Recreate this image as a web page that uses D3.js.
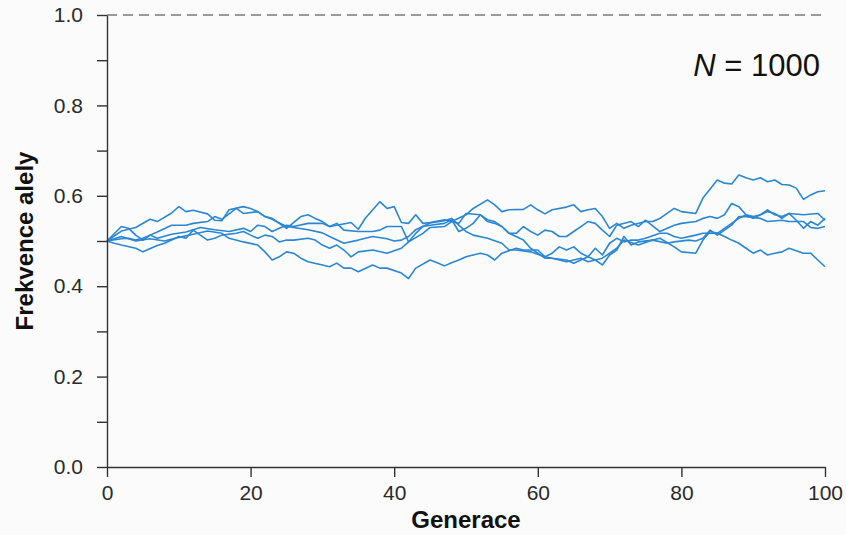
<!DOCTYPE html>
<html>
<head>
<meta charset="utf-8">
<script src="https://cdn.jsdelivr.net/npm/d3@7"></script>
<style>
  html, body { margin: 0; padding: 0; background: #fbfbfb; }
  svg { display: block; }
  text { font-family: "Liberation Sans", Arial, sans-serif; }
</style>
</head>
<body>
<svg id="chart" width="846" height="535"></svg>
<script>
// ---- data ----
const xTicks = [0, 20, 40, 60, 80, 100];
const yTicks = [0, 0.1, 0.2, 0.3, 0.4, 0.5, 0.6, 0.7, 0.8, 0.9, 1.0];
const yLabelTicks = [0, 0.2, 0.4, 0.6, 0.8, 1.0];
const xTitle = "Generace";
const yTitle = "Frekvence alely";
const annotation = "1000";

const s1Gen = [0,2,4,6,7,9,10,11,12,14,15,16,17,19,20,21,22,23,24,25,27,28,29,30,31,32,34,35,36,38,39,40,41,42,43,44,45,47,48,50,51,53,54,55,56,58,59,60,61,62,64,65,66,67,68,69,70,71,72,73,75,76,77,79,80,82,83,85,86,87,88,89,90,91,92,93,94,95,96,97,98,99,100];
const s1Val = [.500,.522,.530,.548,.543,.562,.576,.565,.568,.560,.546,.545,.569,.576,.572,.565,.554,.550,.539,.528,.554,.558,.550,.543,.532,.535,.541,.526,.551,.587,.572,.576,.541,.539,.558,.539,.541,.547,.543,.558,.572,.591,.580,.565,.569,.570,.580,.569,.560,.569,.575,.580,.565,.569,.572,.554,.528,.539,.528,.535,.543,.543,.550,.572,.565,.561,.595,.635,.628,.626,.646,.640,.635,.640,.631,.635,.625,.624,.617,.592,.602,.609,.611];

const s2Gen = [0,1,2,4,5,7,8,9,10,11,12,13,14,15,16,18,19,20,21,22,23,24,25,26,28,29,30,31,32,33,34,35,37,39,41,42,44,45,47,48,49,50,52,53,54,55,56,57,58,59,60,61,62,63,64,65,66,67,68,69,70,71,73,74,75,77,79,80,82,83,84,85,86,87,88,89,90,91,92,93,94,95,97,99,100];
const s2Val = [.500,.495,.491,.484,.476,.490,.495,.502,.510,.506,.524,.513,.502,.506,.513,.517,.521,.513,.506,.513,.510,.498,.502,.502,.506,.502,.491,.484,.491,.480,.465,.476,.480,.473,.484,.498,.517,.530,.532,.543,.539,.561,.558,.543,.539,.532,.517,.517,.532,.521,.513,.524,.521,.510,.510,.521,.532,.543,.539,.524,.510,.535,.543,.532,.546,.521,.535,.539,.543,.550,.554,.550,.558,.583,.576,.558,.554,.558,.565,.561,.550,.561,.558,.561,.546];

const s3Gen = [0,2,4,6,8,10,12,14,16,17,19,21,22,23,24,25,26,27,28,30,31,32,33,34,35,37,38,39,41,42,43,45,46,47,48,49,50,51,52,53,54,55,57,58,60,61,62,63,64,65,66,67,68,69,71,72,74,76,77,79,80,82,83,84,85,86,87,88,89,90,91,92,93,94,95,97,98,99,100];
const s3Val = [.500,.510,.500,.505,.500,.508,.515,.522,.517,.506,.498,.491,.476,.458,.465,.476,.473,.462,.454,.447,.443,.451,.440,.440,.432,.447,.440,.440,.429,.417,.440,.458,.452,.445,.452,.458,.465,.469,.473,.469,.458,.473,.484,.480,.480,.465,.473,.487,.480,.487,.473,.465,.458,.462,.484,.502,.491,.502,.506,.487,.476,.473,.502,.521,.517,.510,.502,.495,.484,.473,.480,.469,.473,.476,.484,.473,.473,.458,.443];

const s4Gen = [0,2,3,4,5,6,7,9,11,13,15,17,19,20,21,22,23,24,25,26,28,30,31,32,33,35,37,38,39,41,42,43,44,45,47,48,49,50,51,52,53,54,55,56,58,59,61,62,63,64,66,67,68,69,70,71,72,73,74,76,78,79,81,82,83,84,85,87,88,89,91,92,94,95,97,98,99,100];
const s4Val = [.500,.532,.528,.513,.502,.513,.506,.515,.520,.530,.525,.521,.528,.521,.535,.532,.521,.528,.535,.532,.539,.539,.532,.539,.524,.521,.521,.524,.532,.532,.498,.517,.532,.535,.539,.547,.521,.528,.539,.558,.547,.543,.532,.517,.502,.484,.462,.462,.458,.454,.462,.454,.458,.447,.469,.480,.510,.491,.498,.502,.495,.498,.502,.500,.506,.524,.513,.535,.554,.554,.550,.543,.546,.543,.543,.530,.528,.532];

const s5Gen = [0,2,3,4,5,6,7,9,11,12,14,15,16,18,19,21,22,23,24,25,26,28,30,31,33,35,37,39,40,41,42,43,45,47,48,49,50,51,53,55,56,57,59,61,62,64,65,66,67,68,69,70,71,72,73,74,75,77,78,79,80,82,83,85,86,88,89,90,91,92,93,94,95,96,97,98,99,100];
const s5Val = [.500,.505,.506,.502,.506,.513,.520,.535,.535,.539,.543,.554,.548,.572,.561,.565,.554,.548,.540,.532,.530,.525,.518,.510,.495,.502,.510,.505,.500,.502,.510,.525,.540,.545,.550,.535,.521,.513,.506,.495,.480,.480,.476,.465,.462,.458,.451,.458,.465,.484,.469,.495,.506,.498,.502,.502,.506,.517,.517,.510,.506,.513,.517,.517,.528,.550,.558,.550,.558,.569,.558,.554,.561,.546,.528,.543,.535,.550];

const seriesList = [
  [s1Gen, s1Val], [s2Gen, s2Val], [s3Gen, s3Val], [s4Gen, s4Val], [s5Gen, s5Val]
];

// ---- drawing ----
const svg = d3.select("#chart");
const x = d3.scaleLinear().domain([0, 100]).range([107, 825]);
const y = d3.scaleLinear().domain([0, 1]).range([467, 15]);

const axisColor = "#333333";
const textColor = "#2a2a2a";
const lineColor = "#2a87d3";

// dashed reference line at 1.0
svg.append("line")
  .attr("x1", x(0)).attr("x2", x(100))
  .attr("y1", y(1)).attr("y2", y(1))
  .attr("stroke", "#7a7a7a").attr("stroke-width", 1.6)
  .attr("stroke-dasharray", "10,6");

// series
const line = d3.line().x(d => x(d[0])).y(d => y(d[1]));
svg.append("g").selectAll("path")
  .data(seriesList.map(([g, v]) => g.map((gg, i) => [gg, v[i]])))
  .join("path")
  .attr("d", line)
  .attr("fill", "none")
  .attr("stroke", lineColor)
  .attr("stroke-width", 1.6)
  .attr("stroke-linejoin", "round");

// y axis
const yAxis = d3.axisLeft(y)
  .tickValues(yTicks)
  .tickSize(10)
  .tickSizeOuter(0)
  .tickPadding(14)
  .tickFormat(d => yLabelTicks.some(t => Math.abs(t - d) < 1e-9) ? d3.format(".1f")(d) : "");
const gy = svg.append("g").attr("transform", `translate(${x(0)},0)`).call(yAxis);

// x axis
const xAxis = d3.axisBottom(x)
  .tickValues(xTicks)
  .tickSize(10)
  .tickSizeOuter(0)
  .tickPadding(8)
  .tickFormat(d3.format("d"));
const gx = svg.append("g").attr("transform", `translate(0,${y(0)})`).call(xAxis);

[gx, gy].forEach(g => {
  g.select(".domain").attr("stroke", axisColor).attr("stroke-width", 1.4);
  g.selectAll(".tick line").attr("stroke", axisColor).attr("stroke-width", 1.4);
  g.selectAll(".tick text")
    .attr("fill", textColor)
    .style("font-family", '"Liberation Sans", Arial, sans-serif')
    .style("font-size", "21px");
});

// axis titles
svg.append("text")
  .attr("x", 466).attr("y", 528)
  .attr("text-anchor", "middle")
  .attr("fill", "#111")
  .style("font-size", "24px").style("font-weight", "bold")
  .text(xTitle);

svg.append("text")
  .attr("transform", `translate(33,241) rotate(-90)`)
  .attr("text-anchor", "middle")
  .attr("fill", "#111")
  .style("font-size", "24px").style("font-weight", "bold")
  .text(yTitle);

// annotation N = 1000
const ann = svg.append("text")
  .attr("x", 820).attr("y", 76)
  .attr("text-anchor", "end")
  .attr("fill", "#111")
  .style("font-size", "31px");
ann.append("tspan").style("font-style", "italic").text("N");
ann.append("tspan").text(" = " + annotation);
</script>
</body>
</html>
